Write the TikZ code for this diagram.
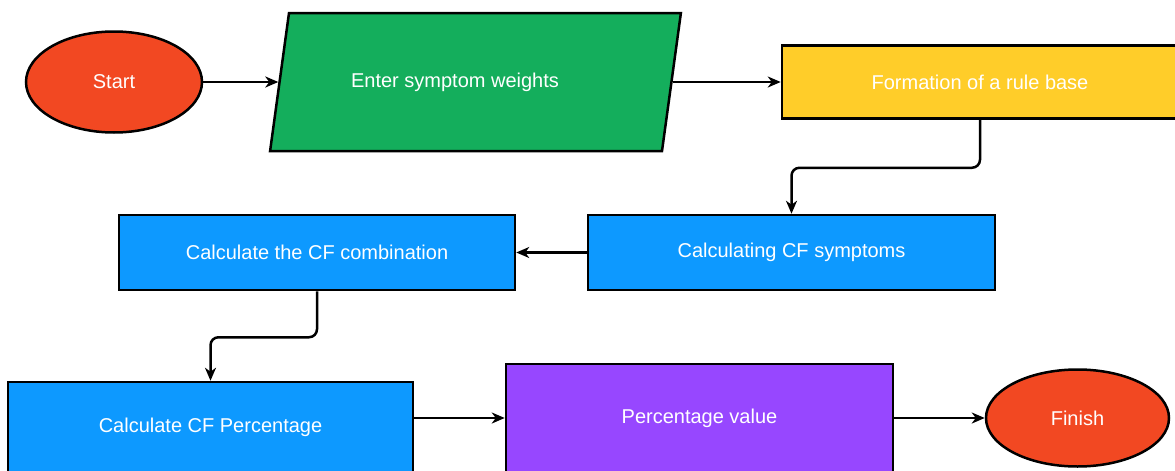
\documentclass[tikz,border=0pt]{standalone}
\usepackage{fontspec}
\setmainfont{Liberation Sans}
\usetikzlibrary{shapes.geometric,arrows.meta}
\definecolor{termred}{HTML}{F24822}
\definecolor{ingreen}{HTML}{14AE5C}
\definecolor{ruleyellow}{HTML}{FFCD29}
\definecolor{procblue}{HTML}{0D99FF}
\definecolor{valpurple}{HTML}{9747FF}
\begin{document}
\begin{tikzpicture}
			[x=1pt,y=-1pt,
			terminal/.style={ellipse,draw,line width=2.5pt,fill=termred,text=white,inner sep=0pt},
			inbox/.style={trapezium,trapezium left angle=82.2,trapezium right angle=97.8,draw,line width=2.5pt,fill=ingreen,inner sep=0pt,text width=373pt,text height=69pt,text depth=69pt},
			procbox/.style={rectangle,draw,line width=2.5pt,text=white,inner sep=0pt},
			txt/.style={text=white,inner sep=0pt},
			flow/.style={->,line width=2.5pt,rounded corners=8pt},
			>={Stealth[length=13pt,width=11pt,inset=4pt]},
			font=\fontsize{20}{24}\selectfont]
			\useasboundingbox (0,0) rectangle (1175,471);
			\node[terminal,name=start,minimum width=176pt,minimum height=101pt]at(114,82){Start};
			\node[inbox,name=enter]at(475.5,82){};
			\node[txt,name=entertxt]at(455,82){Enter symptom weights};
			\node[procbox,name=rule,fill=ruleyellow,minimum width=396pt,minimum height=73pt]at(980,82){Formation of a rule base};
			\node[procbox,name=symp,fill=procblue,minimum width=407pt,minimum height=75pt]at(791.5,252.5){Calculating CF symptoms};
			\node[procbox,name=comb,fill=procblue,minimum width=396pt,minimum height=75pt]at(317,252.5){Calculate the CF combination};
			\node[procbox,name=perc,fill=procblue,minimum width=405pt,minimum height=90pt]at(210.5,427){Calculate CF Percentage};
			\node[procbox,name=pval,fill=valpurple,minimum width=387pt,minimum height=108pt]at(699.5,418){Percentage value};
			\node[terminal,name=finish,minimum width=183pt,minimum height=97pt]at(1077.5,418){Finish};
			\draw[flow](start) --(enter);
			\draw[flow](enter) --(rule);
			\draw[flow](rule.south) --++(0,48) -|(symp.north);
			\draw[flow](symp) --(comb);
			\draw[flow](comb.south) --++(0,46) -|(perc.north);
			\draw[flow](perc.east |- pval.west) --(pval.west);
			\draw[flow](pval) --(finish);
		\end{tikzpicture}
\end{document}
